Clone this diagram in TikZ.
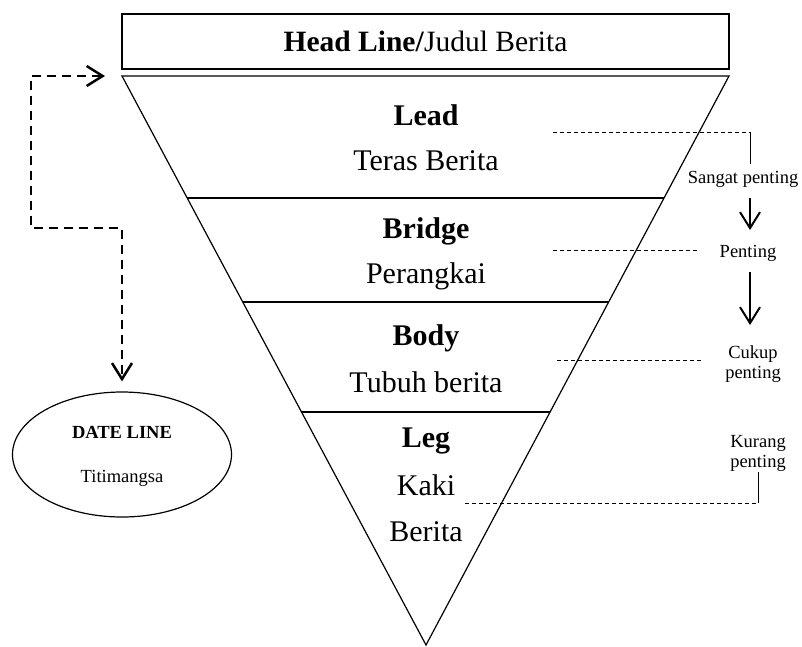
\documentclass[tikz,border=0pt]{standalone}
\usepackage{fontspec}
\setmainfont{Liberation Serif}
\usetikzlibrary{positioning, calc, shapes.geometric, arrows.meta}

\tikzset{
    bigtitle/.style = {anchor = base, inner sep = 0pt, font = \fontsize{30}{36}\selectfont\bfseries},
    bigtext/.style = {anchor = base, inner sep = 0pt, font = \fontsize{30}{36}\selectfont},
    smalltitle/.style = {anchor = base, inner sep = 0pt, font = \fontsize{18.5}{20}\selectfont\bfseries},
    smalltext/.style = {anchor = base, inner sep = 0pt, font = \fontsize{18.5}{20}\selectfont},
    guide/.style = {draw = black, line width = 0.9pt, dash pattern = on 4pt off 3pt},
    bigarrow/.style = {draw = black, line width = 2pt, -{Straight Barb[length = 16pt, width = 20pt]}},
    dasharrow/.style = {draw = black, line width = 2.5pt, dash pattern = on 9pt off 6pt,
        {Straight Barb[length = 16pt, width = 20pt]}-{Straight Barb[length = 16pt, width = 20pt]}}
}

\begin{document}
\begin{tikzpicture}[x = 1pt, y = -1pt]
    \useasboundingbox (0,0) rectangle (802,646);

    % judul di atas piramida
    \node [draw = black, rectangle, line width = 1.2pt, minimum width = 607pt, minimum height = 55pt, inner sep = 0pt, font = \fontsize{29.5}{36}\selectfont] (headline) at (425.5,41.5) {\textbf{Head Line/}Judul Berita} ;

    % piramida terbalik
    \coordinate (tl) at (122,76) ;
    \coordinate (tr) at (729,76) ;
    \coordinate (apex) at (426,645) ;
    \draw [line width = 1.2pt] (tl) -- (tr) -- (apex) -- cycle ;
    \draw [line width = 1.2pt] ($(tl)!0.2144!(apex)$) -- ($(tr)!0.2144!(apex)$) ;
    \draw [line width = 1.2pt] ($(tl)!0.3972!(apex)$) -- ($(tr)!0.3972!(apex)$) ;
    \draw [line width = 1.2pt] ($(tl)!0.5905!(apex)$) -- ($(tr)!0.5905!(apex)$) ;

    \node [bigtitle] (lead) at (426,125) {Lead} ;
    \node [bigtext] (leadsub) at ([yshift = -45pt] lead.base) {Teras Berita} ;
    \node [bigtitle] (bridge) at (426,238) {Bridge} ;
    \node [bigtext] (bridgesub) at ([yshift = -45pt] bridge.base) {Perangkai} ;
    \node [bigtitle] (body) at (426,345) {Body} ;
    \node [bigtext] (bodysub) at ([yshift = -47pt] body.base) {Tubuh berita} ;
    \node [bigtitle] (leg) at (426,447) {Leg} ;
    \node [bigtext] (legsub1) at ([yshift = -48pt] leg.base) {Kaki} ;
    \node [bigtext] (legsub2) at ([yshift = -46pt] legsub1.base) {Berita} ;

    % tingkat kepentingan
    \node [smalltext] (sangat) at (743,183) {Sangat penting} ;
    \node [smalltext] (penting) at (748,257) {Penting} ;
    \node [smalltext, anchor = north, align = center] (cukup) at (753,345) {Cukup\\penting} ;
    \node [smalltext, anchor = north, align = center] (kurang) at (758,435) {Kurang\\penting} ;

    \draw [guide] (553,132) -- (750,132) ;
    \draw [line width = 0.9pt] (750,132) -- (750,164) ;
    \draw [guide] (553,250) -- (698,250) ;
    \draw [guide] (557,360) -- (703,360) ;
    \draw [guide] (465,503) -- (758,503) ;
    \draw [line width = 0.9pt] (758,472) -- (758,503) ;

    \draw [bigarrow] (750,198) -- (750,230) ;
    \draw [bigarrow] (750,272) -- (750,325) ;

    % date line
    \node [draw = black, ellipse, line width = 1.2pt, minimum width = 219pt, minimum height = 125pt] (dateline) at (122,454.5) {} ;
    \node [smalltitle] (datetitle) at (122,438) {DATE LINE} ;
    \node [smalltext] (datesub) at (122,482) {Titimangsa} ;

    \draw [dasharrow, shorten < = 17pt, shorten > = 10pt] (tl) -| (31,228) -| (dateline.north) ;
\end{tikzpicture}
\end{document}
